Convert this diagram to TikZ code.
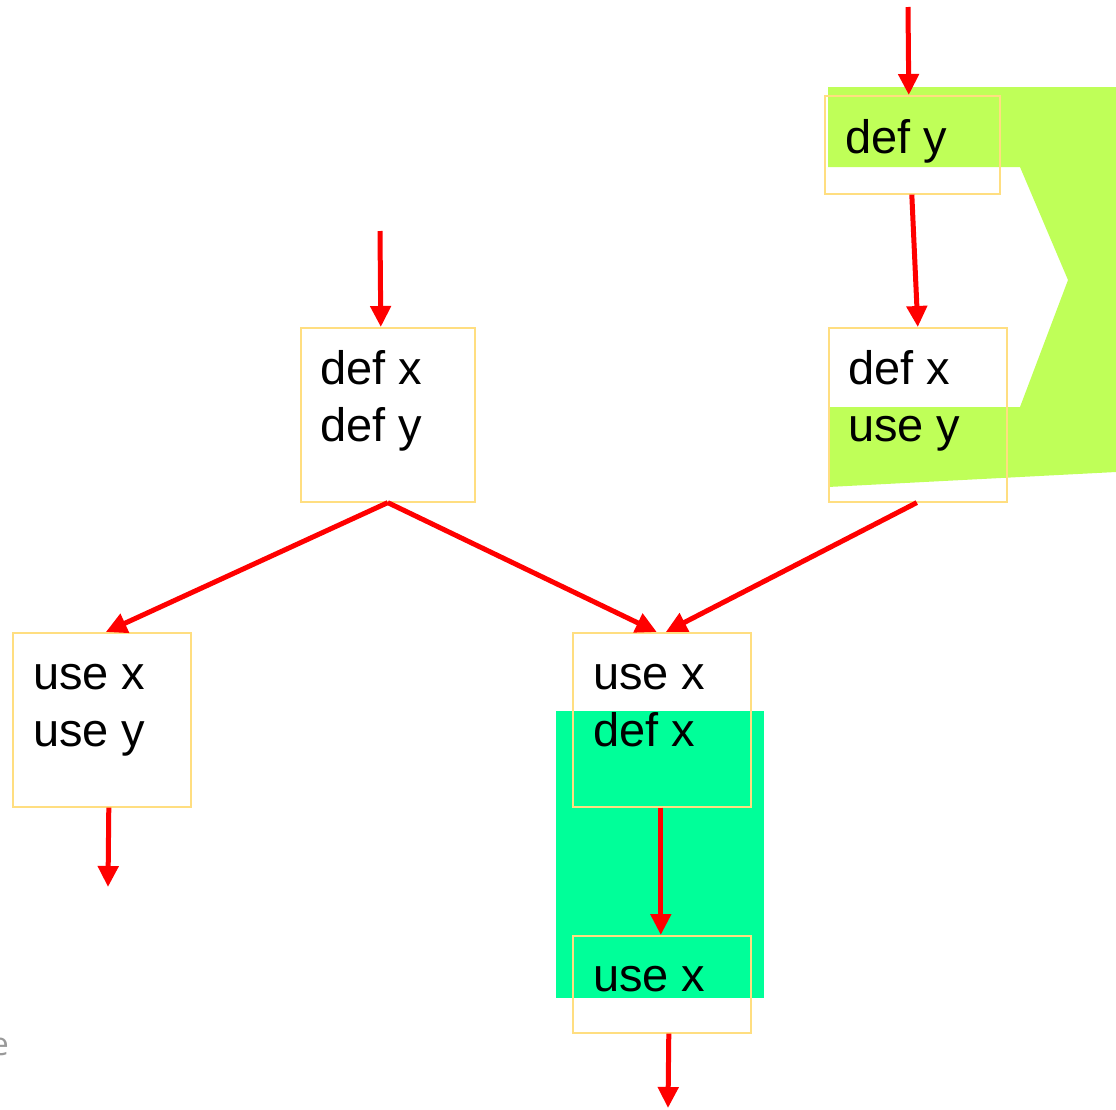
\documentclass[tikz,border=0pt]{standalone}
\usepackage{fontspec}
\setmainfont{Liberation Sans}
\newfontfamily\faintfont{Open Sans}
\usetikzlibrary{arrows.meta}
\definecolor{limeg}{RGB}{191,255,88}
\definecolor{springg}{RGB}{0,255,153}
\definecolor{boxline}{RGB}{255,222,128}
\definecolor{arrred}{RGB}{255,0,0}
\tikzset{
  blk/.style={draw=boxline, line width=1.6pt, inner sep=0pt, anchor=north west},
  lbl/.style={anchor=base west, inner sep=0pt, font=\fontsize{47}{55}\selectfont},
  flow/.style={draw=arrred, line width=5pt, -{Triangle[length=21pt,width=20pt]}, shorten >=0pt},
}
\begin{document}
\begin{tikzpicture}[x=1pt,y=-1pt]
\useasboundingbox (0,0) rectangle (1116,1109);
% green regions
\fill[limeg] (828,87) -- (1116,87) -- (1116,472) -- (828,487) -- (828,407) -- (1020,407) -- (1068,280) -- (1020,167) -- (828,167) -- cycle;
\fill[springg] (556,711) rectangle (764,998);
% boxes
\node[blk, minimum width=174pt, minimum height=174pt] (A) at (300,327) {};
\node[blk, minimum width=178pt, minimum height=174pt] (B) at (12,632) {};
\node[blk, minimum width=178pt, minimum height=174pt] (C) at (572,632) {};
\node[blk, minimum width=178pt, minimum height=97pt] (D) at (572,935) {};
\node[blk, minimum width=175pt, minimum height=98pt] (E) at (824,95) {};
\node[blk, minimum width=178pt, minimum height=174pt] (F) at (828,327) {};
% texts
\node[lbl] (a1) at (320,384) {def x};
\node[lbl] (a2) at (320,441) {def y};
\node[lbl] (b1) at (33,689) {use x};
\node[lbl] (b2) at (33,746) {use y};
\node[lbl] (c1) at (593,689) {use x};
\node[lbl] (c2) at (593,746) {def x};
\node[lbl] (d1) at (593,991) {use x};
\node[lbl] (e1) at (845,153) {def y};
\node[lbl] (f1) at (848,384) {def x};
\node[lbl] (f2) at (848,441) {use y};
\node[anchor=base east, inner sep=0pt, text=black!40, font=\faintfont\fontsize{32}{36}\selectfont] (faint) at (9,1055) {e};
% free ends
\coordinate (inE) at (908,7);
\coordinate (inA) at (380,231);
\coordinate (outB) at (108,887);
\coordinate (outD) at (668,1108);
% connectors
\draw[flow] (inE) -- ([xshift=-3.5pt]E.north);
\draw[flow] ([xshift=-0.5pt]E.south) -- ([xshift=0pt]F.north);
\draw[flow] (inA) -- ([xshift=-7pt]A.north);
\draw[flow] (A.south) -- ([xshift=4pt]B.north);
\draw[flow] (A.south) -- ([xshift=-5pt]C.north);
\draw[flow] ([xshift=-1pt]F.south) -- ([xshift=4pt]C.north);
\draw[flow] ([xshift=7pt]B.south) -- (outB);
\draw[flow] ([xshift=-1pt]C.south) -- ([xshift=-1pt]D.north);
\draw[flow] ([xshift=7pt]D.south) -- (outD);
\end{tikzpicture}
\end{document}
